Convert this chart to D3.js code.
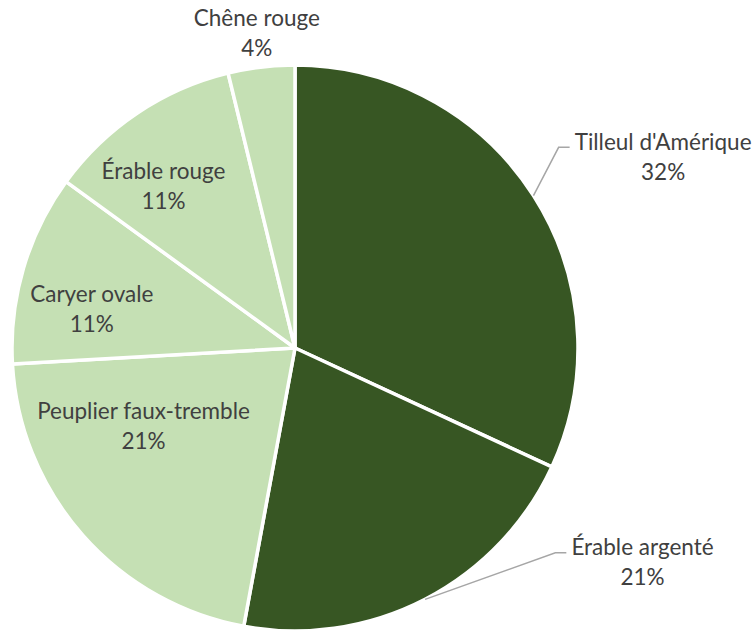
<!DOCTYPE html>
<html><head><meta charset="utf-8">
<script src="https://cdn.jsdelivr.net/npm/d3@7"></script>
<style>body{margin:0;background:#fff}svg{display:block}</style>
</head><body>
<svg id="c" width="755" height="630"></svg>
<script>
const categories = ["Tilleul d'Amérique","Érable argenté","Peuplier faux-tremble","Caryer ovale","Érable rouge","Chêne rouge"];
const values = [31.9, 21.0, 21.2, 10.9, 11.2, 3.8];
const percentLabels = ["32%","21%","21%","11%","11%","4%"];
const colors = ["#375623","#375623","#C5E0B4","#C5E0B4","#C5E0B4","#C5E0B4"];

// label layout: polar (angle deg clockwise from top, radius px) of the label block center, and whether it uses a leader line
const labelLayout = [
  {a:62.5, r:415, leader:true},
  {a:121.6, r:408, leader:true},
  {a:243, r:170, leader:false},
  {a:281, r:207, leader:false},
  {a:321, r:209, leader:false},
  {a:353.1, r:318, leader:false}
];

const svg = d3.select("#c");
const cx = 295, cy = 348, R = 283;
const g = svg.append("g").attr("transform", `translate(${cx},${cy})`);

const data = categories.map((c,i)=>({name:c, value:values[i], pct:percentLabels[i], color:colors[i], lay:labelLayout[i]}));
const pie = d3.pie().value(d=>d.value).sort(null);
const arc = d3.arc().innerRadius(0).outerRadius(R);
const arcs = pie(data);

g.selectAll("path.slice").data(arcs).join("path")
  .attr("class","slice")
  .attr("d", arc)
  .attr("fill", d=>d.data.color)
  .attr("stroke","#fff").attr("stroke-width",3.5).attr("stroke-linejoin","round");

const polar = (deg, r) => { const t = deg*Math.PI/180; return [r*Math.sin(t), -r*Math.cos(t)]; };
const fs = 22.5;

const lbl = g.selectAll("g.lbl").data(arcs).join("g").attr("class","lbl");
lbl.each(function(d){
  const sel = d3.select(this);
  const [x,y] = polar(d.data.lay.a, d.data.lay.r);
  const t = sel.append("text")
    .attr("text-anchor","middle")
    .attr("font-family","Lato, 'Open Sans', sans-serif")
    .attr("font-size", fs)
    .attr("fill","#404040");
  t.append("tspan").attr("x",x).attr("y",y-15).attr("dominant-baseline","central").text(d.data.name);
  t.append("tspan").attr("x",x).attr("y",y+15).attr("dominant-baseline","central").text(d.data.pct);
  if (d.data.lay.leader) {
    const w = t.node().getBBox().width;
    const mid = (d.startAngle + d.endAngle)/2 * 180/Math.PI;
    const p0 = polar(mid, R);
    const xEnd = x - w/2 - 5;
    const yEnd = y - 9;
    sel.insert("polyline","text")
      .attr("points", [p0, [xEnd-11, yEnd], [xEnd, yEnd]].map(p=>p.join(",")).join(" "))
      .attr("fill","none").attr("stroke","#A6A6A6").attr("stroke-width",1.5);
  }
});
</script>
</body></html>
